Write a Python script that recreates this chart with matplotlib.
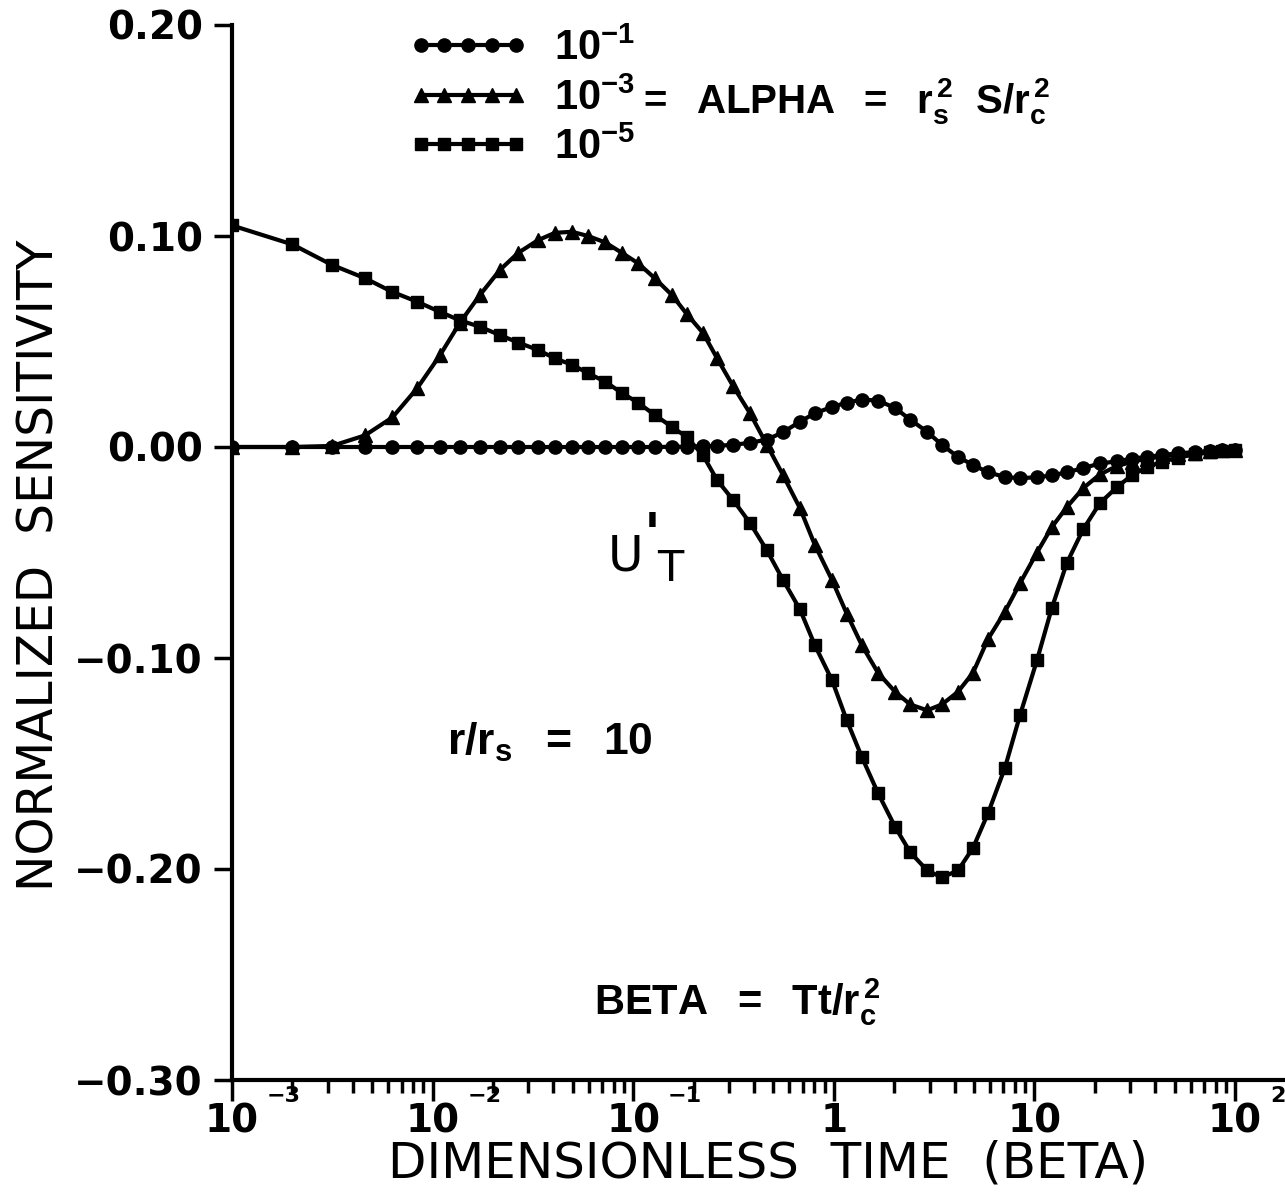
import matplotlib.pyplot as plt
from matplotlib.ticker import LogLocator, NullFormatter, FixedLocator, FixedFormatter

plt.rcParams['mathtext.fontset'] = 'custom'
plt.rcParams['mathtext.rm'] = 'Liberation Sans'
plt.rcParams['mathtext.bf'] = 'Liberation Sans:bold'
plt.rcParams['mathtext.it'] = 'Liberation Sans:italic'

# dimensionless time (BETA)
beta = [0.001, 0.002, 0.00315, 0.0046, 0.0063, 0.0084, 0.0109, 0.0137, 0.0172, 0.0217,
        0.0267, 0.0335, 0.0407, 0.0495, 0.0595, 0.0723, 0.0879, 0.106, 0.128, 0.156,
        0.185, 0.223, 0.262, 0.314, 0.382, 0.464, 0.558, 0.678, 0.805, 0.979,
        1.16, 1.38, 1.66, 2.02, 2.40, 2.92, 3.46, 4.16, 4.94, 5.87,
        7.13, 8.48, 10.3, 12.2, 14.5, 17.5, 21.2, 25.8, 30.7, 36.4,
        43.3, 52.0, 63.2, 75.0, 86.1, 100.0]

# normalized sensitivity, ALPHA = 1e-1 (circles)
alpha_1 = [0, 0, 0, 0, 0, 0, 0, 0, 0, 0,
           0, 0, 0, 0, 0, 0, 0, 0, 0, 0.0001,
           0.0002, 0.0003, 0.0006, 0.001, 0.002, 0.0035, 0.007, 0.012, 0.016, 0.019,
           0.021, 0.0225, 0.022, 0.0185, 0.013, 0.0072, 0.001, -0.0047, -0.0085, -0.012,
           -0.0142, -0.0148, -0.0143, -0.0135, -0.012, -0.010, -0.0078, -0.0068, -0.0055, -0.0047,
           -0.0038, -0.003, -0.0024, -0.002, -0.0015, -0.0012]

# ALPHA = 1e-3 (triangles)
alpha_3 = [0, 0, 0.0005, 0.0055, 0.014, 0.028, 0.0436, 0.059, 0.072, 0.084,
           0.092, 0.098, 0.1015, 0.102, 0.100, 0.097, 0.092, 0.087, 0.080, 0.072,
           0.063, 0.054, 0.042, 0.029, 0.016, 0.001, -0.0133, -0.029, -0.0465, -0.063,
           -0.079, -0.094, -0.107, -0.116, -0.122, -0.1248, -0.122, -0.116, -0.107, -0.091,
           -0.078, -0.0645, -0.050, -0.038, -0.0285, -0.0195, -0.013, -0.009, -0.007, -0.0055,
           -0.0045, -0.0035, -0.0027, -0.002, -0.0016, -0.0013]

# ALPHA = 1e-5 (squares)
alpha_5 = [0.105, 0.096, 0.0863, 0.080, 0.0735, 0.0688, 0.064, 0.060, 0.057, 0.053,
           0.0495, 0.046, 0.042, 0.039, 0.035, 0.031, 0.0256, 0.0209, 0.0152, 0.0095,
           0.0047, -0.004, -0.0157, -0.025, -0.036, -0.049, -0.063, -0.077, -0.094, -0.1105,
           -0.1295, -0.147, -0.164, -0.180, -0.192, -0.2007, -0.204, -0.2007, -0.190, -0.1736,
           -0.152, -0.127, -0.101, -0.0764, -0.055, -0.039, -0.0266, -0.019, -0.0133, -0.0095,
           -0.007, -0.005, -0.0035, -0.0025, -0.002, -0.0015]

legend_labels = [r'$\mathbf{10^{-1}}$', r'$\mathbf{10^{-3}}$', r'$\mathbf{10^{-5}}$']
x_ticks = [1e-3, 1e-2, 1e-1, 1, 10, 100]
x_tick_labels = ['10', '10', '10', '1', '10', '10']
x_tick_exps = ['-3', '-2', '-1', '', '', '2']
y_ticks = [-0.30, -0.20, -0.10, 0.00, 0.10, 0.20]
y_tick_labels = ['\u22120.30', '\u22120.20', '\u22120.10', '0.00', '0.10', '0.20']

plain = ['DejaVu Sans']

fig = plt.figure(figsize=(12.85, 11.97), dpi=100)
ax = fig.add_axes([232 / 1285, 117 / 1197, 1053 / 1285, 1055 / 1197])

lw = 3.0
ax.plot(beta, alpha_1, color='black', lw=lw, marker='o', ms=9.5, label=legend_labels[0])
ax.plot(beta, alpha_3, color='black', lw=lw, marker='^', ms=9.5, label=legend_labels[1])
ax.plot(beta, alpha_5, color='black', lw=lw, marker='s', ms=8.5, label=legend_labels[2])

ax.set_xscale('log')
ax.set_xlim(1e-3, 10 ** 2.249)
ax.set_ylim(-0.30, 0.20)

for side in ['top', 'right']:
    ax.spines[side].set_visible(False)
for side in ['left', 'bottom']:
    ax.spines[side].set_linewidth(3)

ax.xaxis.set_major_locator(FixedLocator(x_ticks))
ax.xaxis.set_major_formatter(FixedFormatter(x_tick_labels))
ax.xaxis.set_minor_locator(LogLocator(base=10, subs=range(2, 10), numticks=20))
ax.xaxis.set_minor_formatter(NullFormatter())
ax.set_yticks(y_ticks)
ax.set_yticklabels(y_tick_labels)

ax.tick_params(axis='x', which='major', direction='out', length=15, width=2.5, pad=1)
ax.tick_params(axis='x', which='minor', direction='out', length=9, width=2.5)
ax.tick_params(axis='y', which='major', direction='out', length=13, width=2.5, pad=8)
for lab in ax.get_xticklabels() + ax.get_yticklabels():
    lab.set_fontfamily(plain)
    lab.set_fontweight('bold')
    lab.set_fontsize(28)

# exponents on the x tick labels
for xt, ex in zip(x_ticks, x_tick_exps):
    if ex:
        ax.annotate(ex.replace('-', '\u2212'), xy=(xt, 0), xycoords=('data', 'axes fraction'),
                    xytext=(25, -4), textcoords='offset points', ha='left', va='top',
                    fontsize=16, fontweight='bold', family=plain)

fig.text(768 / 1285, 1 - 1164 / 1197, 'DIMENSIONLESS  TIME  (BETA)', ha='center', va='center',
         fontsize=36, family=plain)
fig.text(40 / 1285, 1 - 565 / 1197, 'NORMALIZED  SENSITIVITY', ha='center', va='center',
         rotation=90, fontsize=35, family=plain)

leg = ax.legend(loc='upper left', bbox_to_anchor=(408 / 1285, 1 - 27 / 1197),
                bbox_transform=fig.transFigure, frameon=False, numpoints=5,
                handlelength=2.9, handletextpad=0.6, labelspacing=0.18,
                borderpad=0, borderaxespad=0, fontsize=30)

fig.text(637 / 1285, 1 - 113 / 1197, r'$\mathbf{=\ \ ALPHA\ \ =\ \ r_s^{\,2}\ \ S/r_c^{\,2}}$',
         ha='left', va='baseline', fontsize=29)

ax.text(0.0385, -0.140, r'$\mathbf{r/r_s\ \ =\ \ 10}$', ha='center', va='center', fontsize=32)
ax.text(0.33, -0.263, r'$\mathbf{BETA\ \ =\ \ Tt/r_c^{\,2}}$', ha='center', va='center', fontsize=30)

# U'_T label
ax.text(0.092, -0.0517, 'U', ha='center', va='center', fontsize=35, family=plain)
ax.annotate("'", xy=(0.092, -0.0517), xytext=(19, 14), textcoords='offset points',
            ha='center', va='center', fontsize=40, fontweight='bold', family=plain)
ax.annotate('T', xy=(0.092, -0.0517), xytext=(32, -9), textcoords='offset points',
            ha='center', va='center', fontsize=31, family=plain)

fig.savefig('out.png', dpi=100)
